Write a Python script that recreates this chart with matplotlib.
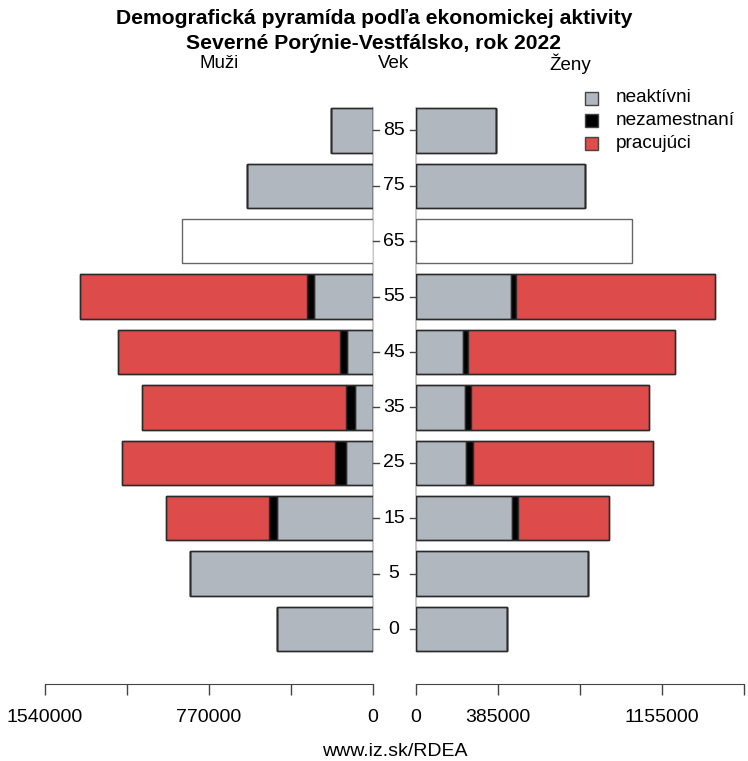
import numpy as np
import matplotlib
matplotlib.use('Agg')
import matplotlib.pyplot as plt

plt.rcParams['font.family'] = ['Liberation Sans', 'DejaVu Sans']

# vekove skupiny
vek = [0, 5, 15, 25, 35, 45, 55, 65, 75, 85]

# muzi
muzi_neaktivni = [452000, 859000, 450000, 127000, 84000, 122000, 277000, 0, 592000, 199000]
muzi_nezamestnani = [0, 0, 40000, 53000, 44000, 34000, 31000, 0, 0, 0]
muzi_pracujuci = [0, 0, 481000, 997000, 955000, 1041000, 1066000, 0, 0, 0]
muzi_bez_clenenia = [0, 0, 0, 0, 0, 0, 0, 897000, 0, 0]

# zeny
zeny_neaktivni = [427000, 809000, 451000, 235000, 229000, 221000, 448000, 0, 793000, 377000]
zeny_nezamestnane = [0, 0, 30000, 33000, 27000, 25000, 23000, 0, 0, 0]
zeny_pracujuce = [0, 0, 424000, 847000, 836000, 972000, 931000, 0, 0, 0]
zeny_bez_clenenia = [0, 0, 0, 0, 0, 0, 0, 1016000, 0, 0]

farba_neakt = '#b1b7be'
farba_nezam = '#000000'
farba_prac = '#de4b4b'
okraj = '#2b2b2b'

xmax = 1540000
ticks = [0, 385000, 770000, 1155000, 1540000]

W, H = 748, 761
fig = plt.figure(figsize=(W / 100, H / 100), dpi=100)

y = np.arange(len(vek))
ax_bottom_px, ax_top_px = 684, 95
row0_px, step_px = 629, 55.4
ylo = (row0_px - ax_bottom_px) / step_px
yhi = (row0_px - ax_top_px) / step_px
bottom = (H - ax_bottom_px) / H
height = (ax_bottom_px - ax_top_px) / H

axL = fig.add_axes([45 / W, bottom, 328 / W, height])
axR = fig.add_axes([416 / W, bottom, 328 / W, height])

def kresli(ax, neakt, nezam, prac, bez):
    neakt = np.array(neakt)
    nezam = np.array(nezam)
    prac = np.array(prac)
    bez = np.array(bez)
    h = 0.8
    ax.plot([0, 0], [-0.4, len(vek) - 0.6], color='#c8c8c8', lw=1.5, zorder=0, clip_on=False)
    ax.barh(y, neakt, height=h, color=farba_neakt, edgecolor=okraj, lw=1.0)
    ax.barh(y, nezam, left=neakt, height=h, color=farba_nezam, edgecolor=okraj, lw=1.0)
    ax.barh(y, prac, left=neakt + nezam, height=h, color=farba_prac, edgecolor=okraj, lw=1.0)
    m = bez > 0
    ax.barh(y[m], bez[m], height=h, color='white', edgecolor='#666666', lw=1.0)
    # obrys celeho stlpca
    tot = neakt + nezam + prac + bez
    for yi, t, b in zip(y, tot, bez):
        if b == 0:
            ax.barh(yi, t, height=h, color='none', edgecolor=okraj, lw=1.0)
    ax.set_ylim(ylo, yhi)
    for s in ['top', 'left', 'right']:
        ax.spines[s].set_visible(False)
    ax.spines['bottom'].set_color('#444444')
    ax.set_yticks([])
    ax.set_xticks(ticks)
    ax.tick_params(axis='x', length=8, width=1, color='#444444', labelsize=14, pad=10)

kresli(axL, muzi_neaktivni, muzi_nezamestnani, muzi_pracujuci, muzi_bez_clenenia)
axL.set_xlim(xmax, 0)
axL.set_xticklabels(['0', '', '770000', '', '1540000'])

kresli(axR, zeny_neaktivni, zeny_nezamestnane, zeny_pracujuce, zeny_bez_clenenia)
axR.set_xlim(0, xmax)
axR.set_xticklabels(['0', '385000', '', '1155000', ''])

# vekove popisky v strede
for yi, v in zip(y, vek):
    yf = (row0_px - yi * step_px)
    fig.text(394 / W, 1 - yf / H, str(v), ha='center', va='center', fontsize=14)
    fig.add_artist(plt.Line2D([373 / W, 379 / W], [1 - yf / H] * 2, color='#444444', lw=1))
    fig.add_artist(plt.Line2D([410 / W, 416 / W], [1 - yf / H] * 2, color='#444444', lw=1))

fig.text(374 / W, 1 - 18.5 / H, 'Demografická pyramída podľa ekonomickej aktivity',
         ha='center', va='center', fontsize=15.2, fontweight='bold')
fig.text(374 / W, 1 - 43.5 / H, 'Severné Porýnie-Vestfálsko, rok 2022',
         ha='center', va='center', fontsize=15.2, fontweight='bold')
fig.text(219 / W, 1 - 64 / H, 'Muži', ha='center', va='center', fontsize=13.5)
fig.text(394 / W, 1 - 64 / H, 'Vek', ha='center', va='center', fontsize=13.5)
fig.text(570 / W, 1 - 64 / H, 'Ženy', ha='center', va='center', fontsize=13.5)
fig.text(395 / W, 1 - 751 / H, 'www.iz.sk/RDEA', ha='center', va='center', fontsize=14)

# legenda
leg = [('neaktívni', farba_neakt), ('nezamestnaní', farba_nezam), ('pracujúci', farba_prac)]
for i, (txt, c) in enumerate(leg):
    yp = 98 + i * 22.5
    fig.add_artist(plt.Rectangle((585 / W, 1 - (yp + 6.5) / H), 13 / W, 13 / H,
                                 facecolor=c, edgecolor='#444444', lw=1))
    fig.text(616 / W, 1 - yp / H, txt, ha='left', va='center', fontsize=13.7)

fig.savefig('out.png', dpi=100)
